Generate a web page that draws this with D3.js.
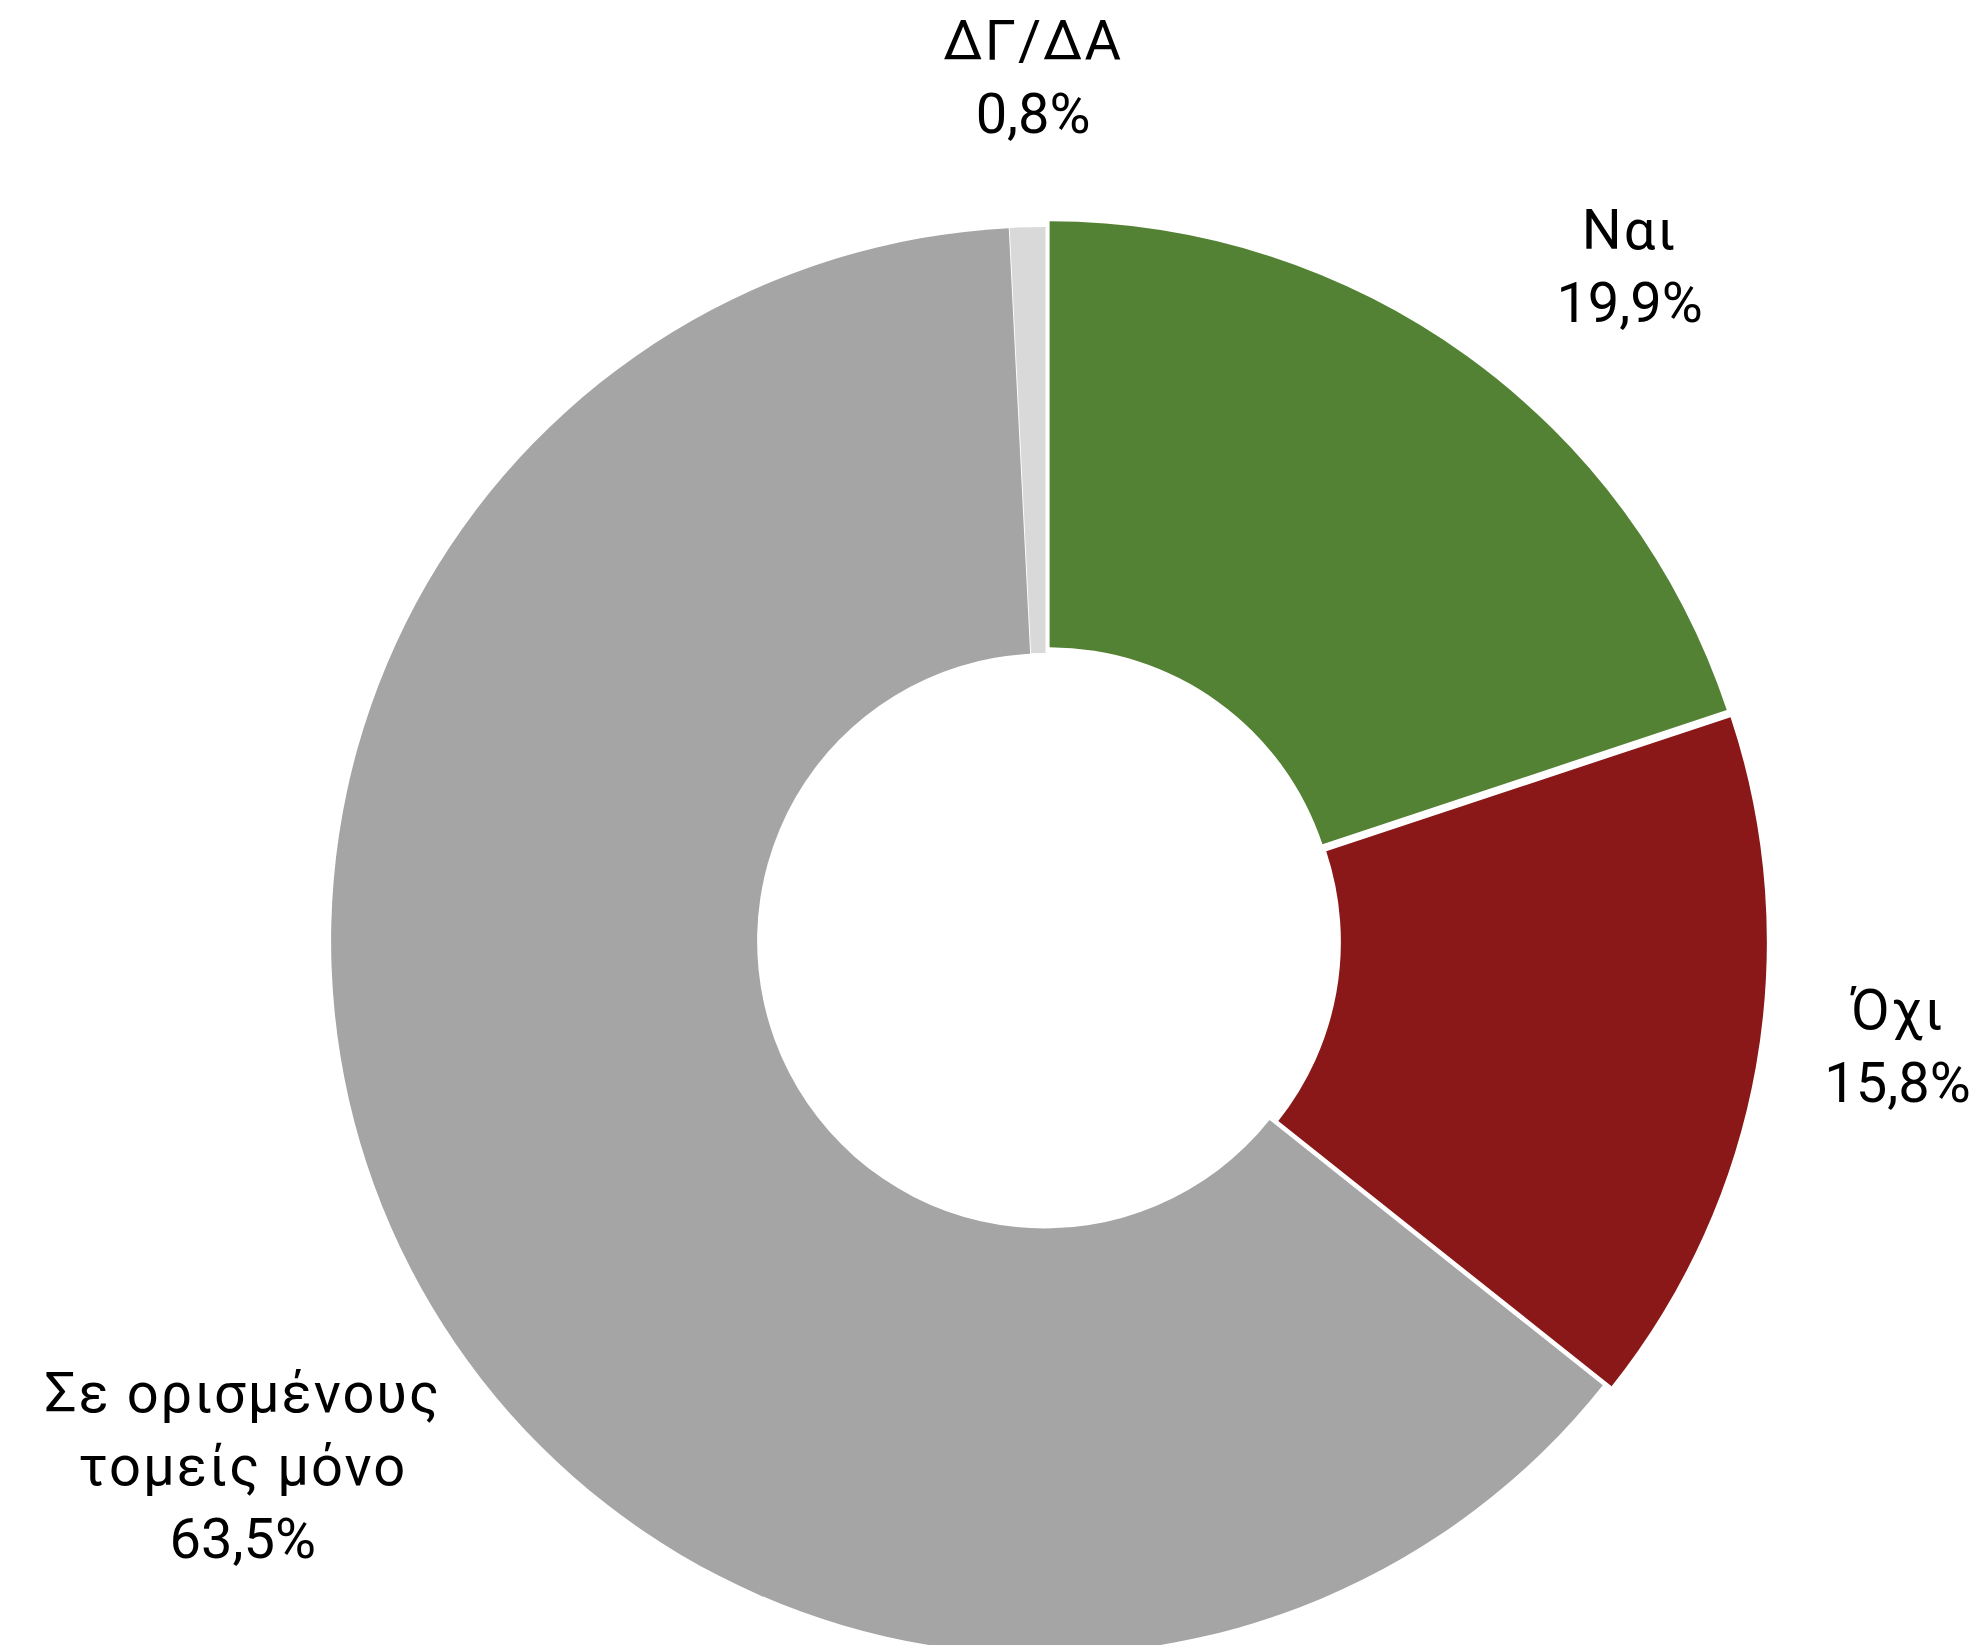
<!DOCTYPE html>
<html>
<head>
<meta charset="utf-8">
<script src="https://cdn.jsdelivr.net/npm/d3@7"></script>
<style>
  html, body { margin: 0; padding: 0; background: #ffffff; }
  svg { display: block; }
  text { font-family: "Roboto", "Noto Sans", sans-serif; fill: #000000; }
</style>
</head>
<body>
<script>
// ---- data ----
const categories = ["Ναι", "Όχι", "Σε ορισμένους τομείς μόνο", "ΔΓ/ΔΑ"];
const labelLines = [["Ναι"], ["Όχι"], ["Σε ορισμένους", "τομείς μόνο"], ["ΔΓ/ΔΑ"]];
const values = [19.9, 15.8, 63.5, 0.8];
const colors = ["#548235", "#8B1818", "#A5A5A5", "#D9D9D9"];

// ---- layout ----
const W = 1982, H = 1645;
const cx = 1045.5, cy = 940.5;
const outerR = 713.5, innerR = 287.5;
const explode = [7, 8, 1, 0];
const labelR = [890, 860, 968, 845];
const labelAngleShift = [5.2, -2.3, -6.8, 0.6]; // degrees
const labelDy = [-4, -12, -17, -19];
const fontSize = 56, lineH = 73;

const locale = d3.formatLocale({decimal: ",", thousands: ".", grouping: [3], currency: ["", "€"]});
const fmt = v => locale.format(".1f")(v) + "%";

const svg = d3.select("body").append("svg").attr("width", W).attr("height", H);
const g = svg.append("g").attr("transform", `translate(${cx},${cy})`);

const pie = d3.pie().sort(null).value(d => d.value);
const arcs = pie(values.map((v, i) => ({value: v, i})));
const arc = d3.arc().innerRadius(innerR).outerRadius(outerR);

g.selectAll("path.slice").data(arcs).join("path")
  .attr("class", "slice")
  .attr("d", arc)
  .attr("fill", d => colors[d.data.i])
  .attr("transform", d => {
    const a = (d.startAngle + d.endAngle) / 2;
    const e = explode[d.data.i];
    return `translate(${e * Math.sin(a)},${-e * Math.cos(a)})`;
  });

g.selectAll("text.lbl").data(arcs).join("text")
  .attr("class", "lbl")
  .attr("text-anchor", "middle")
  .attr("font-size", fontSize)
  .each(function(d) {
    const i = d.data.i;
    const a = (d.startAngle + d.endAngle) / 2 + labelAngleShift[i] * Math.PI / 180;
    const x = labelR[i] * Math.sin(a);
    const y = -labelR[i] * Math.cos(a) + labelDy[i];
    const names = labelLines[i];
    const lines = names.concat([fmt(values[i])]);
    const n = lines.length;
    const firstBaseline = y - (n - 1) * lineH / 2 + fontSize * 0.36;
    const t = d3.select(this);
    lines.forEach((ln, k) => {
      t.append("tspan")
        .attr("x", x)
        .attr("y", firstBaseline + k * lineH)
        .attr("letter-spacing", k < names.length ? 2 : 0)
        .text(ln);
    });
  });
</script>
</body>
</html>
